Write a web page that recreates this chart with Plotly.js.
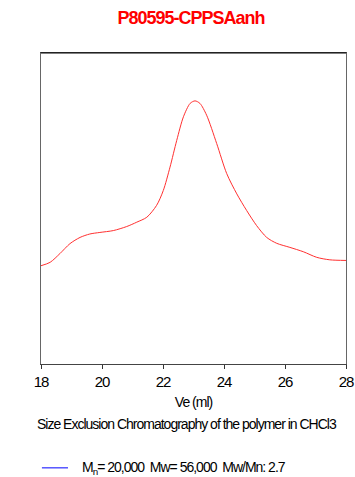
<!DOCTYPE html>
<html><head><meta charset="utf-8">
<script src="https://cdn.plot.ly/plotly-3.0.1.min.js"></script>
<style>body{margin:0;background:#fff} svg text{letter-spacing:-1px}</style>
</head><body>
<div id="chart" style="width:355px;height:477px"></div>
<script>
const titleText = "P80595-CPPSAanh";
const xTitle = "Ve (ml)";
const subTitle = "Size Exclusion Chromatography of the polymer in CHCl3";
const legendName = "M<sub>n</sub>= 20,000  Mw= 56,000  Mw/Mn: 2.7";
const tickVals = [18, 20, 22, 24, 26, 28];
const ve = [18.0, 18.3, 18.62, 18.95, 19.28, 19.6, 19.93, 20.37, 20.81, 21.14, 21.47, 21.79, 22.01, 22.23, 22.45, 22.67, 22.89, 23.05, 23.21, 23.43, 23.76, 24.09, 24.42, 24.74, 25.07, 25.4, 25.73, 26.16, 26.6, 27.04, 27.47, 28.0];
const signal = [31.6, 32.7, 35.5, 38.7, 40.7, 41.8, 42.3, 42.9, 44.2, 45.6, 47.2, 51.0, 55.8, 63.3, 71.9, 79.5, 83.8, 84.6, 83.8, 80.0, 70.9, 61.2, 54.7, 49.4, 44.5, 40.7, 38.8, 37.5, 36.1, 34.3, 33.5, 33.3];

const FONT = "Liberation Sans, Arial, sans-serif";

const traces = [
  {x: ve, y: signal, type: "scatter", mode: "lines", line: {color: "#ff3030", width: 1, shape: "spline", smoothing: 0.8}, showlegend: false, hoverinfo: "skip"}
];

const layout = {
  width: 355, height: 477,
  margin: {l: 41, r: 9, t: 53, b: 113},
  paper_bgcolor: "#fff", plot_bgcolor: "#fff",
  font: {family: FONT, size: 14, color: "#000"},
  title: {text: "<b>" + titleText + "</b>", font: {family: FONT, size: 18, color: "#ff0000"}, x: 0.538, xanchor: "center", y: 0.962, yanchor: "middle"},
  xaxis: {
    range: [18, 28], tickvals: tickVals, ticktext: tickVals.map(String),
    ticks: "outside", ticklen: 4, tickcolor: "#333", tickwidth: 1,
    showline: true, linecolor: "#444", linewidth: 1, mirror: true,
    showgrid: false, zeroline: false,
    tickfont: {family: FONT, size: 15}, ticklabelstandoff: 0,
    title: {text: xTitle, font: {family: FONT, size: 14}, standoff: 8}
  },
  yaxis: {
    range: [0, 100], showticklabels: false, ticks: "",
    showline: true, linecolor: "#666", linewidth: 1, mirror: true,
    showgrid: false, zeroline: false
  },
  showlegend: false,
  shapes: [
    {type: "line", xref: "paper", yref: "paper", x0: 0, x1: 1, y0: 1, y1: 1, line: {color: "#000", width: 1}},
    {type: "line", xref: "paper", yref: "paper", x0: 0.003, x1: 0.0885, y0: -0.334, y1: -0.334, line: {color: "#0000ff", width: 1}}
  ],
  annotations: [
    {text: subTitle, xref: "paper", yref: "paper", x: 0.48, y: -0.193, xanchor: "center", yanchor: "middle", showarrow: false, font: {family: FONT, size: 14}},
    {text: legendName, xref: "paper", yref: "paper", x: 0.128, y: -0.334, xanchor: "left", yanchor: "middle", showarrow: false, font: {family: FONT, size: 14}}
  ]
};
Plotly.newPlot("chart", traces, layout, {displayModeBar: false, staticPlot: true});
</script>
</body></html>
